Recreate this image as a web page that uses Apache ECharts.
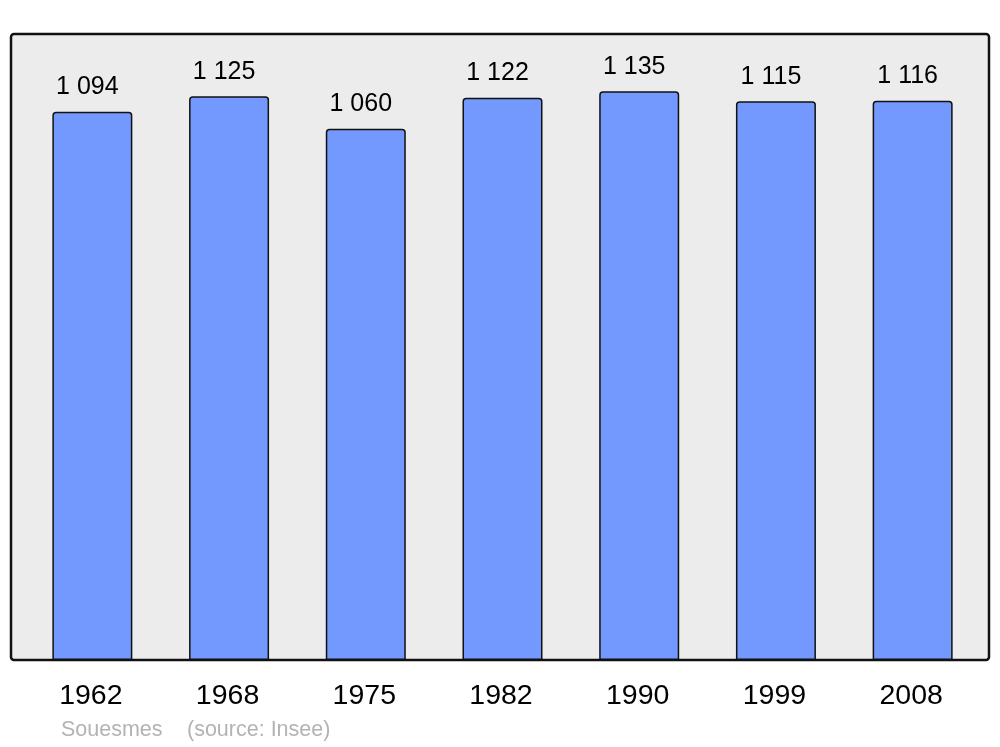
<!DOCTYPE html>
<html>
<head>
<meta charset="utf-8">
<script src="https://cdn.jsdelivr.net/npm/echarts@6/dist/echarts.min.js"></script>
<style>
html,body{margin:0;padding:0;background:#fff;}
#chart{width:1000px;height:747px;}
</style>
</head>
<body>
<div id="chart"></div>
<script>
const years = ['1962', '1968', '1975', '1982', '1990', '1999', '2008'];
const population = [1094, 1125, 1060, 1122, 1135, 1115, 1116];
const commune = 'Souesmes';
const source = '(source: Insee)';

function fmt(v) {
  return String(v).replace(/\B(?=(\d{3})+(?!\d))/g, ' ');
}

const chart = echarts.init(document.getElementById('chart'), null, {renderer: 'canvas'});
chart.setOption({
  animation: false,
  backgroundColor: '#ffffff',
  textStyle: {fontFamily: 'Liberation Sans, Arial, sans-serif'},
  graphic: [
    {
      type: 'rect', z: -10,
      shape: {x: 11, y: 34, width: 978, height: 626, r: 3},
      style: {fill: '#ececec', stroke: '#111111', lineWidth: 2.5}
    },
    {
      type: 'text', left: 61, top: 719,
      style: {text: commune, fill: '#b3b3b3', font: '21.5px "Liberation Sans", Arial, sans-serif'}
    },
    {
      type: 'text', left: 187, top: 719,
      style: {text: source, fill: '#b3b3b3', font: '21.5px "Liberation Sans", Arial, sans-serif'}
    }
  ],
  grid: {left: 24, right: 19, top: 35, bottom: 87, containLabel: false},
  xAxis: {
    type: 'category',
    data: years,
    axisLine: {show: false},
    axisTick: {show: false},
    axisLabel: {color: '#000', fontSize: 28.5, margin: 22, fontFamily: 'Liberation Sans', padding: [0, 3, 0, 0]}
  },
  yAxis: {
    type: 'value',
    min: 0, max: 1247,
    show: false,
    splitLine: {show: false}
  },
  series: [{
    type: 'bar',
    data: population,
    barWidth: 80,
    itemStyle: {color: '#7399ff', borderColor: '#111111', borderWidth: 1.5, borderRadius: [3, 3, 0, 0]},
    label: {
      show: true, position: 'top', distance: 12, offset: [-5, 0],
      color: '#000', fontSize: 25, fontFamily: 'Liberation Sans',
      formatter: p => fmt(p.value)
    }
  }]
});
</script>
</body>
</html>
